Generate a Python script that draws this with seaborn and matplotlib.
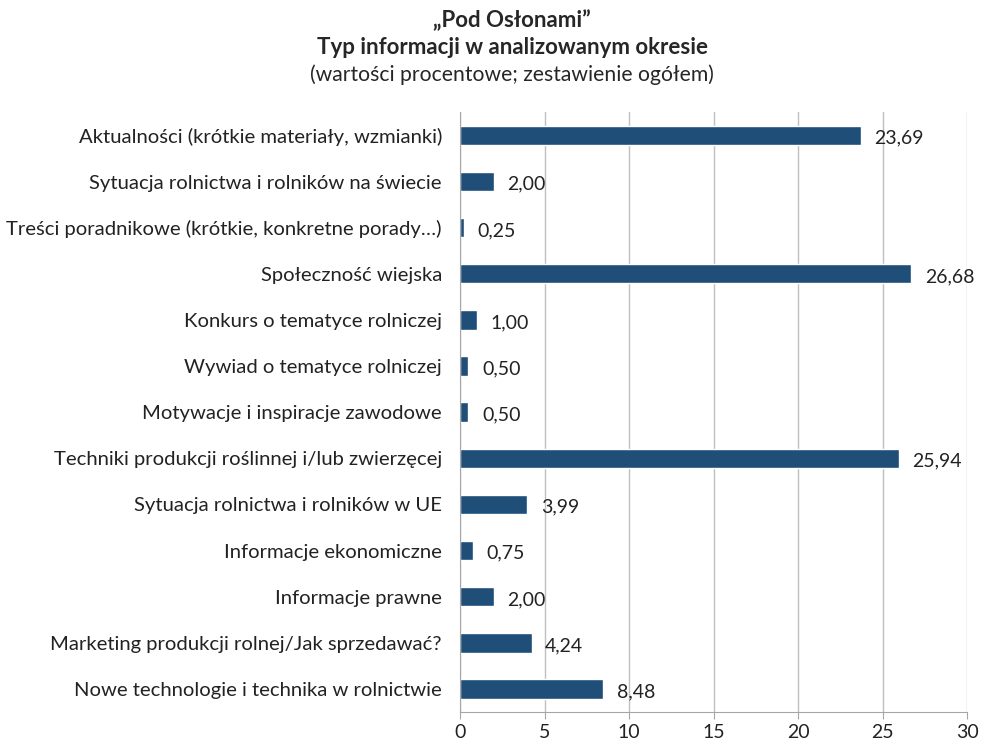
import pandas as pd
import matplotlib
matplotlib.use("Agg")
import matplotlib.pyplot as plt
import seaborn as sns

#Dane
kategorie = [
    "Aktualności (krótkie materiały, wzmianki)",
    "Sytuacja rolnictwa i rolników na świecie",
    "Treści poradnikowe (krótkie, konkretne porady…)",
    "Społeczność wiejska",
    "Konkurs o tematyce rolniczej",
    "Wywiad o tematyce rolniczej",
    "Motywacje i inspiracje zawodowe",
    "Techniki produkcji roślinnej i/lub zwierzęcej",
    "Sytuacja rolnictwa i rolników w UE",
    "Informacje ekonomiczne",
    "Informacje prawne",
    "Marketing produkcji rolnej/Jak sprzedawać?",
    "Nowe technologie i technika w rolnictwie",
]
wartosci = [23.69, 2.00, 0.25, 26.68, 1.00, 0.50, 0.50, 25.94, 3.99, 0.75, 2.00, 4.24, 8.48]

df = pd.DataFrame({"kategoria": kategorie, "wartosc": wartosci})

sns.set_style("white")
plt.rcParams["font.family"] = ["Lato", "DejaVu Sans"]

fig = plt.figure(figsize=(9.85, 7.44), dpi=100)
ax = fig.add_axes([0.467, 0.043, 0.515, 0.806])

sns.barplot(data=df, x="wartosc", y="kategoria", color="#1F4E79",
            width=0.42, saturation=1, ax=ax)

#Etykiety wartości
for i, v in enumerate(wartosci):
    ax.text(v + 0.8, i + 0.06, f"{v:.2f}".replace(".", ","),
            va="center", ha="left", fontsize=14, color="#222222")

ax.set_xlim(0, 30)
ax.set_xticks(range(0, 31, 5))
ax.set_ylim(len(kategorie) - 0.5, -0.5)
ax.set_xlabel("")
ax.set_ylabel("")
ax.xaxis.grid(True, color="#BFBFBF", linewidth=1)
ax.set_axisbelow(True)

for s in ["top", "right"]:
    ax.spines[s].set_visible(False)
ax.spines["left"].set_color("#A6A6A6")
ax.spines["bottom"].set_color("#A6A6A6")

#Znaczniki osi Y pomiędzy kategoriami
ax.set_yticks([i - 0.5 for i in range(len(kategorie) + 1)], minor=True)
ax.tick_params(axis="y", which="minor", length=5, color="#A6A6A6", width=1)
ax.tick_params(axis="y", which="major", length=0, labelsize=14.6, pad=13,
               labelcolor="#222222")
ax.tick_params(axis="x", length=5, color="#A6A6A6", labelsize=14,
               labelcolor="#222222", direction="out", bottom=True)

fig.text(0.52, 0.972, "„Pod Osłonami”", ha="center", va="center",
         fontsize=16, fontweight="bold")
fig.text(0.52, 0.936, "Typ informacji w analizowanym okresie", ha="center",
         va="center", fontsize=16, fontweight="bold")
fig.text(0.52, 0.899, "(wartości procentowe; zestawienie ogółem)", ha="center",
         va="center", fontsize=15.2)

fig.savefig("out.png", dpi=100)
